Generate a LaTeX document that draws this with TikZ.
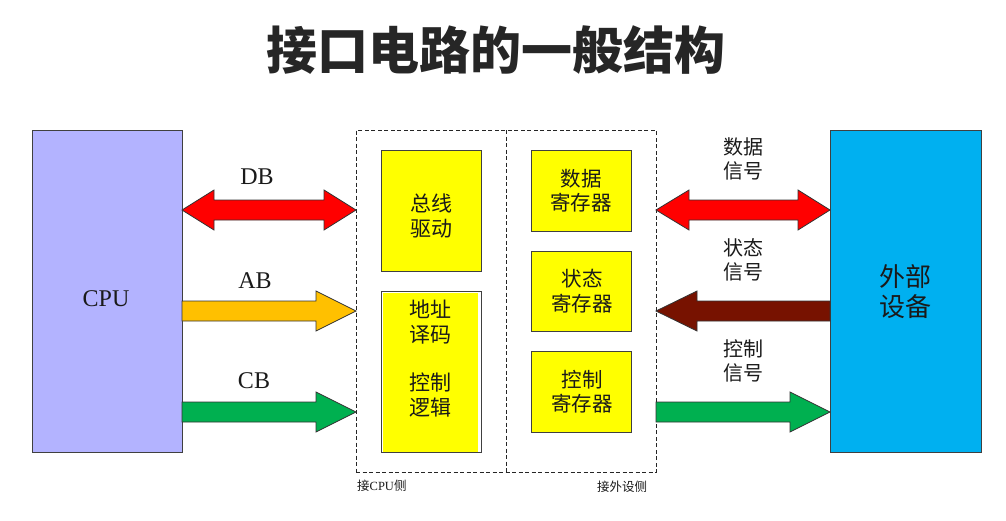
\documentclass[tikz,border=0pt]{standalone}
\usepackage{fontspec}
\setmainfont{Liberation Serif}
\newfontfamily\cjk{Noto Sans CJK SC}
\usetikzlibrary{calc}
\definecolor{cpuc}{HTML}{B3B3FF}
\definecolor{extc}{HTML}{00B0F0}
\definecolor{yel}{HTML}{FFFF00}
\definecolor{redc}{HTML}{FF0000}
\definecolor{orac}{HTML}{FFC000}
\definecolor{grnc}{HTML}{00B050}
\definecolor{brnc}{HTML}{771200}
\definecolor{edge}{HTML}{404040}
\definecolor{titlec}{HTML}{262626}
\definecolor{txt}{HTML}{1A1A1A}
\tikzset{
  box/.style={draw=edge, line width=1pt, inner sep=0pt, outer sep=0pt, anchor=north west},
  arr/.style={draw=black!80, line width=0.8pt, line join=miter},
  lbl/.style={inner sep=0pt, text=txt, align=center},
}
% tip to the right
\newcommand\rarrow[4]{\filldraw[arr,fill=#1] let \p1=(#2),\p2=(#3) in
  (\x1,\y1+10pt) -- (\x2-#4pt,\y1+10pt) -- (\x2-#4pt,\y1+20pt) -- (\x2,\y1) --
  (\x2-#4pt,\y1-20pt) -- (\x2-#4pt,\y1-10pt) -- (\x1,\y1-10pt) -- cycle;}
% tip to the left (#2 tail on the right, #3 tip on the left)
\newcommand\larrow[4]{\filldraw[arr,fill=#1] let \p1=(#2),\p2=(#3) in
  (\x1,\y1+10pt) -- (\x2+#4pt,\y1+10pt) -- (\x2+#4pt,\y1+20pt) -- (\x2,\y1) --
  (\x2+#4pt,\y1-20pt) -- (\x2+#4pt,\y1-10pt) -- (\x1,\y1-10pt) -- cycle;}
% double arrow (#2 left tip, #3 right tip)
\newcommand\dblarrow[5]{\filldraw[arr,fill=#1] let \p1=(#2),\p2=(#3) in
  (\x1,\y1) -- (\x1+#4pt,\y1+20pt) -- (\x1+#4pt,\y1+10pt) -- (\x2-#5pt,\y1+10pt) --
  (\x2-#5pt,\y1+20pt) -- (\x2,\y1) -- (\x2-#5pt,\y1-20pt) -- (\x2-#5pt,\y1-10pt) --
  (\x1+#4pt,\y1-10pt) -- (\x1+#4pt,\y1-20pt) -- cycle;}
\begin{document}
\begin{tikzpicture}[x=1pt,y=-1pt]
\useasboundingbox[fill=white] (0,0) rectangle (1006,520);

% title
\node[inner sep=0pt, text=titlec, font=\cjk\bfseries\fontsize{51}{51}\selectfont] (title) at (496,50)
  {接口电路的一般结构};

% CPU and external device
\node[box, fill=cpuc, minimum width=150, minimum height=322] (cpu) at (32,130) {};
\node[lbl, font=\fontsize{24}{24}\selectfont] (cpul) at (106,299) {CPU};
\node[box, fill=extc, minimum width=151, minimum height=322] (ext) at (830,130) {};
\node[lbl, font=\cjk\fontsize{26}{30}\selectfont] (extl) at (905,292) {外部\\设备};

% interface (dashed)
\node[draw=black!85, dash pattern=on 4pt off 2.5pt, line width=0.9pt, inner sep=0pt, outer sep=0pt,
      anchor=north west, minimum width=300, minimum height=342] (ifc) at (356,130) {};
\coordinate (divt) at (506,130);
\coordinate (divb) at (506,472);
\draw[black!85, dash pattern=on 4pt off 2.5pt, line width=0.9pt] (divt) -- (divb);

% CPU-side boxes
\node[box, fill=yel, minimum width=100, minimum height=121] (bus) at (381,150) {};
\node[lbl, font=\cjk\fontsize{21}{25}\selectfont] (busl) at (431,215.5) {总线\\驱动};
\node[box, fill=white, minimum width=100, minimum height=161] (addr) at (381,291) {};
\fill[yel] ($(addr.north west)+(2.3,2.3)$) rectangle ($(addr.south east)+(-2.7,-0.5)$);
\node[lbl, font=\cjk\fontsize{21}{24.3}\selectfont] (addrl) at (430,358.5) {地址\\译码\\\mbox{}\\控制\\逻辑};

% device-side registers
\node[box, fill=yel, minimum width=100, minimum height=81] (dreg) at (531,150) {};
\node[lbl, font=\cjk\fontsize{20.5}{24.5}\selectfont] (dregl) at (581,190.5) {数据\\寄存器};
\node[box, fill=yel, minimum width=100, minimum height=80] (sreg) at (531,251) {};
\node[lbl, font=\cjk\fontsize{20.5}{24.5}\selectfont] (sregl) at (582,291) {状态\\寄存器};
\node[box, fill=yel, minimum width=100, minimum height=81] (creg) at (531,351) {};
\node[lbl, font=\cjk\fontsize{20.5}{24.5}\selectfont] (cregl) at (582,391.5) {控制\\寄存器};

% bus arrows (CPU side)
\coordinate (dbA) at (cpu.east |- 0,210);
\coordinate (dbB) at (ifc.west |- 0,210);
\coordinate (abA) at (cpu.east |- 0,311);
\coordinate (abB) at (ifc.west |- 0,311);
\coordinate (cbA) at (cpu.east |- 0,412);
\coordinate (cbB) at (ifc.west |- 0,412);
\dblarrow{redc}{dbA}{dbB}{32}{32}
\rarrow{orac}{abA}{abB}{40}
\rarrow{grnc}{cbA}{cbB}{40}
\node[lbl, font=\fontsize{24}{24}\selectfont] (dbl) at (257,177) {DB};
\node[lbl, font=\fontsize{24}{24}\selectfont] (abl) at (255,281) {AB};
\node[lbl, font=\fontsize{24}{24}\selectfont] (cbl) at (254,381) {CB};

% signal arrows (device side)
\coordinate (dsA) at (ifc.east |- 0,210);
\coordinate (dsB) at (ext.west |- 0,210);
\coordinate (ssA) at (ext.west |- 0,311);
\coordinate (ssB) at (ifc.east |- 0,311);
\coordinate (csA) at (ifc.east |- 0,412);
\coordinate (csB) at (ext.west |- 0,412);
\dblarrow{redc}{dsA}{dsB}{33}{32}
\larrow{brnc}{ssA}{ssB}{41}
\rarrow{grnc}{csA}{csB}{40}
\node[lbl, font=\cjk\fontsize{20}{24}\selectfont] (dsl) at (743,159) {数据\\信号};
\node[lbl, font=\cjk\fontsize{20}{24}\selectfont] (ssl) at (743,260) {状态\\信号};
\node[lbl, font=\cjk\fontsize{20}{24}\selectfont] (csl) at (743,361) {控制\\信号};

% side captions
\node[lbl, anchor=west, font=\fontsize{12.5}{12.5}\selectfont] (cpuside) at (357,486) {{\cjk 接}CPU{\cjk 侧}};
\node[lbl, font=\cjk\fontsize{12.5}{12.5}\selectfont] (extside) at (622,487) {接外设侧};
\end{tikzpicture}
\end{document}
